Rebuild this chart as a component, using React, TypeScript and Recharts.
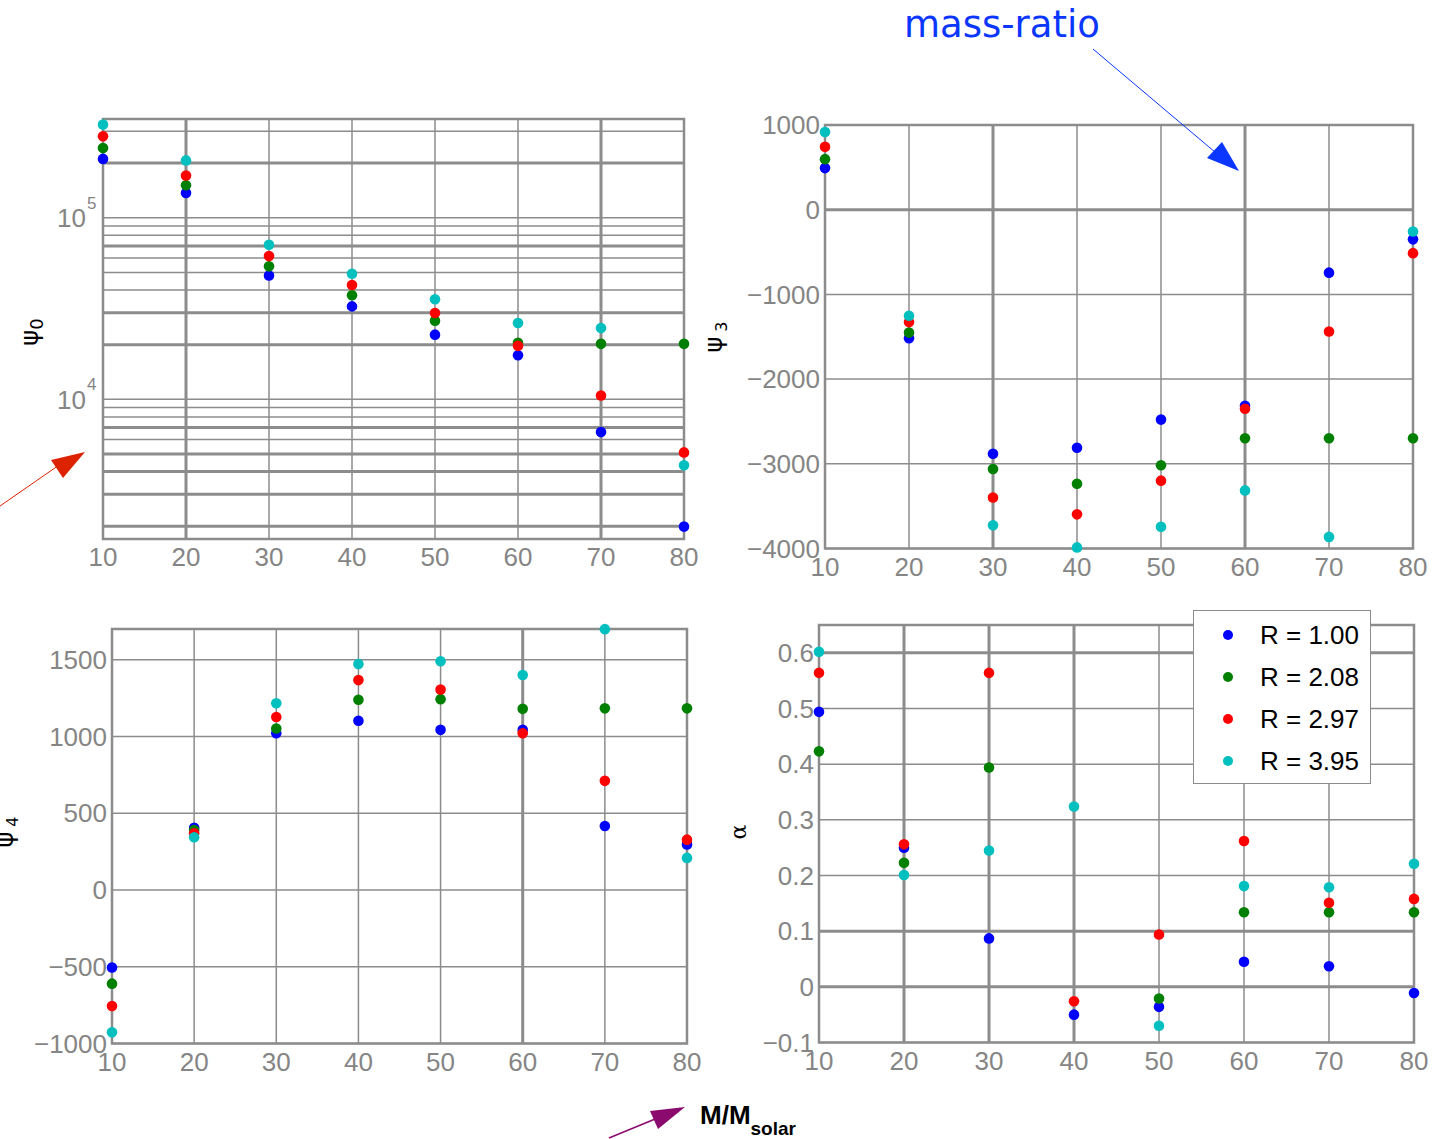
import React from 'react';
import {
  ScatterChart,
  Scatter,
  XAxis,
  YAxis,
  CartesianGrid,
  ReferenceLine,
  ReferenceArea,
  Legend,
} from 'recharts';

// x axis: total mass in solar masses
const masses = [10, 20, 30, 40, 50, 60, 70, 80];
const seriesNames = ['R = 1.00', 'R = 2.08', 'R = 2.97', 'R = 3.95'];
const seriesColors = ['#0000ff', '#008000', '#ff0000', '#00bfbf'];

// psi_0 (log axis)
const psi0R100 = [211000, 137000, 48100, 32500, 22700, 17500, 6600, 1990];
const psi0R208 = [242000, 151000, 54000, 37400, 27100, 20500, 20200, 20200];
const psi0R297 = [281000, 171000, 61500, 42600, 29900, 19700, 10500, 5100];
const psi0R395 = [326000, 207000, 71000, 49200, 35600, 26300, 24700, 4330];
const psi0Ticks = [
  2000, 3000, 4000, 5000, 6000, 7000, 8000, 9000, 10000,
  20000, 30000, 40000, 50000, 60000, 70000, 80000, 90000, 100000,
  200000, 300000,
];

// psi_3
const psi3R100 = [491, -1518, -2881, -2810, -2478, -2314, -743, -350];
const psi3R208 = [597, -1451, -3062, -3235, -3018, -2699, -2699, -2699];
const psi3R297 = [743, -1327, -3398, -3597, -3199, -2350, -1438, -513];
const psi3R395 = [916, -1252, -3726, -3987, -3743, -3314, -3863, -257];
const psi3Ticks = [-4000, -3000, -2000, -1000, 0, 1000];

// psi_4
const psi4R100 = [-505, 405, 1021, 1102, 1043, 1043, 417, 296];
const psi4R208 = [-610, 390, 1052, 1239, 1243, 1180, 1183, 1183];
const psi4R297 = [-756, 370, 1127, 1367, 1306, 1021, 711, 328];
const psi4R395 = [-927, 343, 1216, 1472, 1490, 1400, 1699, 209];
const psi4Ticks = [-1000, -500, 0, 500, 1000, 1500];

// alpha
const alphaR100 = [0.494, 0.25, 0.087, -0.05, -0.036, 0.045, 0.037, -0.011];
const alphaR208 = [0.423, 0.223, 0.394, null, -0.021, 0.134, 0.134, 0.134];
const alphaR297 = [0.564, 0.256, 0.564, -0.026, 0.094, 0.262, 0.151, 0.158];
const alphaR395 = [0.602, 0.201, 0.245, 0.324, -0.07, 0.181, 0.179, 0.221];
const alphaTicks = [-0.1, 0, 0.1, 0.2, 0.3, 0.4, 0.5, 0.6];

const GRID = '#8c8c8c';
const TICK_FILL = '#858585';
const FONT = '"Liberation Sans", Arial, sans-serif';

const minus = (s: string) => s.replace('-', '\u2212');

const toPoints = (vals: (number | null)[]) =>
  masses
    .map((m, i) => ({ x: m, y: vals[i] }))
    .filter((d) => d.y !== null);

const LogTick = (props: any) => {
  const { x, y, payload } = props;
  const exp = Math.round(Math.log10(payload.value));
  if (Math.pow(10, exp) !== payload.value) return <g />;
  return (
    <g>
      <text x={x - 12} y={y} dy="0.36em" textAnchor="end" fill={TICK_FILL} fontSize={26} fontFamily={FONT}>
        10
      </text>
      <text x={x - 11} y={y - 9} textAnchor="start" fill={TICK_FILL} fontSize={17} fontFamily={FONT}>
        {exp}
      </text>
    </g>
  );
};

const LegendBox = (props: any) => {
  const payload = props.payload || [];
  return (
    <div
      style={{
        width: 178,
        height: 174,
        boxSizing: 'border-box',
        border: `1.5px solid ${GRID}`,
        background: '#fff',
        paddingTop: 3,
      }}
    >
      {payload.map((p: any) => (
        <div key={p.value} style={{ display: 'flex', alignItems: 'center', height: 42 }}>
          <svg width={66} height={42} style={{ flex: 'none' }}>
            <circle cx={34} cy={21} r={5} fill={p.color} />
          </svg>
          <span style={{ fontFamily: FONT, fontSize: 26, color: '#000', whiteSpace: 'nowrap' }}>{p.value}</span>
        </div>
      ))}
    </div>
  );
};

type PanelProps = {
  left: number;
  top: number;
  width: number;
  height: number;
  margin: { top: number; right: number; bottom: number; left: number };
  yWidth: number;
  series: (number | null)[][];
  yDomain: [number, number];
  yTicks: number[];
  log?: boolean;
  fmt?: (v: number) => string;
  heavyX: number[];
  heavyY: number[];
  legend?: boolean;
};

function Panel(p: PanelProps) {
  return (
    <div style={{ position: 'absolute', left: p.left, top: p.top }}>
      <ScatterChart width={p.width} height={p.height} margin={p.margin}>
        <CartesianGrid stroke={GRID} strokeWidth={1.5} />
        <XAxis
          type="number"
          dataKey="x"
          domain={[10, 80]}
          ticks={masses}
          height={40}
          tickSize={0}
          tickMargin={9}
          axisLine={false}
          tick={{ fill: TICK_FILL, fontSize: 26, fontFamily: FONT }}
        />
        <YAxis
          type="number"
          dataKey="y"
          scale={p.log ? 'log' : 'linear'}
          domain={p.yDomain}
          ticks={p.yTicks}
          width={p.yWidth}
          tickSize={0}
          tickMargin={5}
          axisLine={false}
          interval={0}
          tick={p.log ? <LogTick /> : { fill: TICK_FILL, fontSize: 26, fontFamily: FONT }}
          tickFormatter={p.fmt}
        />
        {p.heavyX.map((v) => (
          <ReferenceLine key={`hx${v}`} x={v} stroke={GRID} strokeWidth={3} />
        ))}
        {p.heavyY.map((v) => (
          <ReferenceLine key={`hy${v}`} y={v} stroke={GRID} strokeWidth={3} />
        ))}
        <ReferenceArea
          x1={10}
          x2={80}
          y1={p.yDomain[0]}
          y2={p.yDomain[1]}
          fill="none"
          stroke={GRID}
          strokeWidth={2.5}
          ifOverflow="visible"
        />
        {p.legend && (
          <Legend
            layout="vertical"
            align="center"
            verticalAlign="middle"
            content={<LegendBox />}
            wrapperStyle={{ left: 493, top: 20, width: 'auto' }}
          />
        )}
        {p.series.map((vals, i) => (
          <Scatter
            key={seriesNames[i]}
            name={seriesNames[i]}
            data={toPoints(vals)}
            fill={seriesColors[i]}
            isAnimationActive={false}
            shape={(s: any) => <circle cx={s.cx} cy={s.cy} r={5.3} fill={seriesColors[i]} />}
          />
        ))}
      </ScatterChart>
    </div>
  );
}

const linFmt = (v: number) => minus(String(v));
const alphaFmt = (v: number) => (v === 0 ? '0' : minus(v.toFixed(1)));

export default function App() {
  return (
    <div style={{ position: 'absolute', left: 0, top: 0, width: 1441, height: 1139, background: '#fff', overflow: 'hidden' }}>
      <Panel
        left={0}
        top={0}
        width={720}
        height={600}
        margin={{ top: 119, right: 36, bottom: 21, left: 0 }}
        yWidth={103}
        series={[psi0R100, psi0R208, psi0R297, psi0R395]}
        yDomain={[1700, 350000]}
        yTicks={psi0Ticks}
        log
        heavyX={[20, 70]}
        heavyY={[200000, 70000, 30000, 20000, 7000, 5000, 4000, 3000, 2000]}
      />
      <Panel
        left={700}
        top={0}
        width={741}
        height={600}
        margin={{ top: 125, right: 28, bottom: 11.5, left: 0 }}
        yWidth={125}
        series={[psi3R100, psi3R208, psi3R297, psi3R395]}
        yDomain={[-4000, 1000]}
        yTicks={psi3Ticks}
        fmt={linFmt}
        heavyX={[30, 60]}
        heavyY={[0]}
      />
      <Panel
        left={0}
        top={590}
        width={720}
        height={500}
        margin={{ top: 39, right: 33, bottom: 6.5, left: 0 }}
        yWidth={112}
        series={[psi4R100, psi4R208, psi4R297, psi4R395]}
        yDomain={[-1000, 1700]}
        yTicks={psi4Ticks}
        fmt={linFmt}
        heavyX={[60]}
        heavyY={[]}
      />
      <Panel
        left={700}
        top={590}
        width={741}
        height={500}
        margin={{ top: 35, right: 27, bottom: 7.5, left: 0 }}
        yWidth={119}
        series={[alphaR100, alphaR208, alphaR297, alphaR395]}
        yDomain={[-0.1, 0.65]}
        yTicks={alphaTicks}
        fmt={alphaFmt}
        heavyX={[20, 30, 40]}
        heavyY={[0.6, 0.1, 0]}
        legend
      />
      <svg width={1441} height={1139} style={{ position: 'absolute', left: 0, top: 0, pointerEvents: 'none' }}>
        {/* axis labels */}
        <text transform="translate(38,332) rotate(-90)" textAnchor="middle" fontSize={24} fontFamily="DejaVu Sans" fill="#000">
          ψ<tspan fontSize={18} dy={5}>0</tspan>
        </text>
        <text transform="translate(722,337) rotate(-90)" textAnchor="middle" fontSize={24} fontFamily="DejaVu Sans" fill="#000">
          ψ<tspan fontSize={16} dy={5}> 3</tspan>
        </text>
        <text transform="translate(13,832) rotate(-90)" textAnchor="middle" fontSize={24} fontFamily="DejaVu Sans" fill="#000">
          ψ<tspan fontSize={16} dy={5}> 4</tspan>
        </text>
        <text transform="translate(746,832) rotate(-90)" textAnchor="middle" fontSize={22} fontFamily="DejaVu Serif" fill="#000">
          α
        </text>

        {/* mass-ratio annotation */}
        <text x={904} y={37} fontSize={37} fontFamily="DejaVu Sans" fill="#0a36ff">
          mass-ratio
        </text>
        <line x1={1093} y1={49} x2={1222} y2={158} stroke="#0a36ff" strokeWidth={1} />
        <polygon points="1239,171 1207,158 1222,142" fill="#0a36ff" />

        {/* red arrow */}
        <line x1={0} y1={506} x2={62} y2={463} stroke="#dd2200" strokeWidth={1} />
        <polygon points="85,452 51,460 63,478" fill="#dd2200" />

        {/* purple arrow and x label */}
        <line x1={609} y1={1138} x2={660} y2={1117} stroke="#8a0a6e" strokeWidth={1.5} />
        <polygon points="685,1107 650,1111 658,1129" fill="#8a0a6e" />
        <text x={700} y={1124} fontSize={26} fontWeight="bold" fontFamily={FONT} fill="#000">
          M/M<tspan fontSize={19} dy={11}>solar</tspan>
        </text>
      </svg>
    </div>
  );
}
